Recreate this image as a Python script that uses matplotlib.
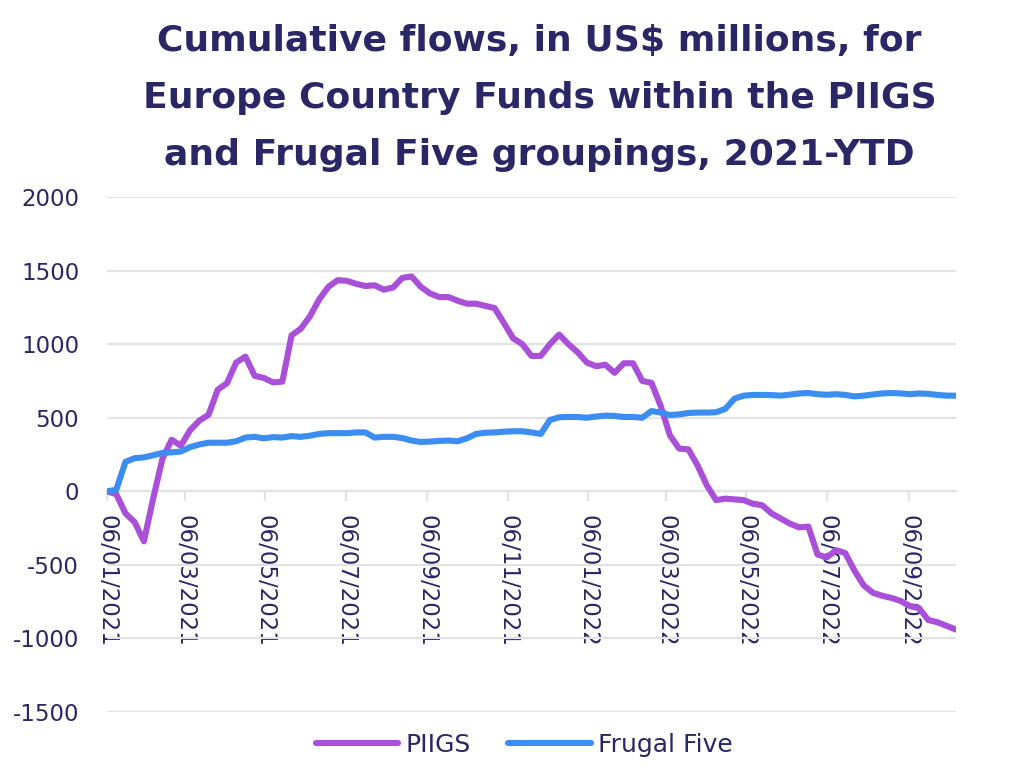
import matplotlib
matplotlib.use("Agg")
import matplotlib.pyplot as plt
import matplotlib.dates as mdates
import pandas as pd

plt.rcParams["axes.unicode_minus"] = False

# ---- data (weekly, cumulative US$ millions) ----
start_date = "2021-01-06"
piigs = [0, -20, -150, -210, -340, -50, 220, 350, 310, 415,
         480, 520, 690, 735, 875, 915, 785, 770, 740, 745,
         1060, 1105, 1190, 1305, 1390, 1435, 1430, 1410, 1395, 1400,
         1370, 1385, 1450, 1460, 1390, 1345, 1320, 1320, 1295, 1275,
         1275, 1260, 1245, 1145, 1040, 1000, 920, 920, 1000, 1065,
         1000, 945, 875, 850, 860, 805, 870, 870, 750, 737,
         580, 380, 290, 285, 175, 40, -60, -50, -55, -60,
         -85, -95, -150, -185, -220, -245, -240, -430, -450, -400,
         -420, -540, -640, -690, -710, -725, -745, -780, -795, -875,
         -890, -915, -940]
frugal_five = [0, 10, 200, 225, 230, 245, 260, 265, 270, 300,
               318, 330, 330, 330, 340, 365, 370, 360, 368, 365,
               375, 370, 378, 390, 395, 395, 395, 400, 400, 365,
               370, 370, 362, 345, 335, 338, 342, 345, 340, 360,
               390, 398, 400, 405, 408, 408, 400, 390, 485, 503,
               505, 505, 500, 508, 514, 512, 505, 505, 500, 545,
               535, 518, 523, 532, 535, 535, 537, 560, 630, 650,
               655, 655, 654, 650, 657, 665, 668, 660, 656, 660,
               655, 645, 650, 658, 665, 668, 665, 660, 665, 662,
               655, 650, 650]
series_names = ["PIIGS", "Frugal Five"]
y_ticks = [-1500, -1000, -500, 0, 500, 1000, 1500, 2000]
title = ("Cumulative flows, in US$ millions, for\n"
         "Europe Country Funds within the PIIGS\n"
         "and Frugal Five groupings, 2021-YTD")

dates = pd.date_range(start_date, periods=len(piigs), freq="7D")

# ---- style ----
navy = "#2B2766"
purple = "#A94FD8"
blue = "#3C8DF2"
grid_c = "#E3E3E3"

fig = plt.figure(figsize=(10.24, 7.71), dpi=100)
ax = fig.add_axes([107 / 1024, 1 - 712 / 771, (956 - 107) / 1024, (712 - 197) / 771])

ax.plot(dates, piigs, color=purple, lw=4.4, solid_joinstyle="round",
        solid_capstyle="round", label=series_names[0], zorder=3)
ax.plot(dates, frugal_five, color=blue, lw=4.4, solid_joinstyle="round",
        solid_capstyle="round", label=series_names[1], zorder=3)

ax.set_ylim(-1500, 2000)
ax.set_xlim(dates[0], dates[-1])
ax.set_yticks(y_ticks)
ax.yaxis.grid(True, color=grid_c, lw=1.6)
ax.set_axisbelow(True)

for s in ["top", "right", "left"]:
    ax.spines[s].set_visible(False)
ax.spines["bottom"].set_position(("data", 0))
ax.spines["bottom"].set_color(grid_c)
ax.spines["bottom"].set_linewidth(1.6)
ax.spines["bottom"].set_zorder(1)

ax.xaxis.set_major_locator(mdates.MonthLocator(bymonth=[1, 3, 5, 7, 9, 11], bymonthday=6))
ax.xaxis.set_major_formatter(mdates.DateFormatter("%d/%m/%Y"))
ax.tick_params(axis="x", length=7, width=1.6, color=grid_c, pad=10,
               labelsize=16.5, labelcolor=navy, labelrotation=270)
ax.tick_params(axis="y", length=0, pad=20, labelsize=16.5, labelcolor=navy)
for lab in ax.get_xticklabels():
    lab.set_ha("center")
    lab.set_va("top")

fig.text(0.527, 1 - 98 / 771, title, ha="center", va="center",
         fontsize=26, fontweight="bold", color=navy, linespacing=1.85)

leg = fig.legend(loc="center", bbox_to_anchor=(0.512, 1 - 745 / 771), ncol=2,
                 frameon=False, fontsize=18, handlelength=3.3, handletextpad=0.3,
                 columnspacing=1.5, labelcolor=navy)

fig.savefig("out.png", dpi=100, facecolor="white")
